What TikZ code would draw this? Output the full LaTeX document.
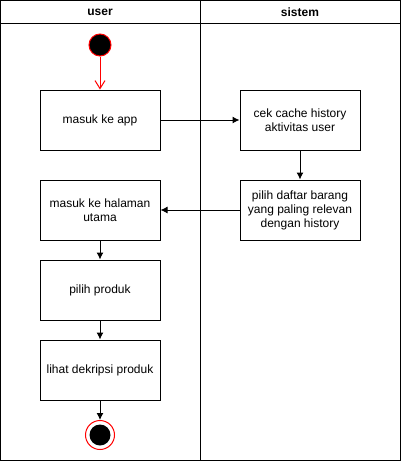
\documentclass[tikz,border=0pt]{standalone}
\usepackage{fontspec}
\setmainfont{Liberation Sans}
\usetikzlibrary{arrows.meta,positioning}
\begin{document}
\begin{tikzpicture}
    [x=1pt, y=-1pt, font=\fontsize{12}{14}\selectfont, line width=1pt,
    act/.style={rectangle, draw=black, minimum width=120pt, minimum height=60pt, align=center, inner sep=2pt},
    lane/.style={draw=black, line width=1pt},
    flow/.style={-{Latex[length=7pt,width=7pt]}, line width=1pt},
    startflow/.style={draw=red, -{Straight Barb[length=8pt,width=10pt]}, line width=1pt}
    ]
    \useasboundingbox (0,0) rectangle (401,461);
    % swimlanes
    \draw [lane] (0.5,0.5) rectangle (400.5,460.5);
    \draw [lane] (0.5,23) -- (400.5,23);
    \draw [lane] (200.5,0.5) -- (200.5,460.5);
    \node (user) at (100,12) {\textbf{user}};
    \node (sistem) at (300,12) {\textbf{sistem}};
    % nodes
    \node [circle, fill=black, draw=red, minimum size=22pt, inner sep=0pt] (start) at (100,45) {};
    \node [act] (masuk) at (100,120) {masuk ke app};
    \node [act] (cek) at (300,120) {cek cache history\\aktivitas user};
    \node [act] (daftar) at (300,210) {pilih daftar barang\\yang paling relevan\\dengan history};
    \node [act] (halaman) at (100,210) {masuk ke halaman\\utama};
    \node [act] (produk) at (100,290) {pilih produk};
    \node [act] (dekripsi) at (100,370) {lihat dekripsi produk};
    \node [circle, draw=red, minimum size=29pt, inner sep=0pt] (stop) at (100,435) {};
    \node [circle, fill=black, minimum size=21pt, inner sep=0pt] at (stop) {};
    % arrows
    \draw [startflow] (start) -- (masuk);
    \draw [flow] (masuk) -- (cek);
    \draw [flow] (cek) -- (daftar);
    \draw [flow] (daftar) -- (halaman);
    \draw [flow] (halaman) -- (produk);
    \draw [flow] (produk) -- (dekripsi);
    \draw [flow] (dekripsi) -- (stop);
\end{tikzpicture}
\end{document}
